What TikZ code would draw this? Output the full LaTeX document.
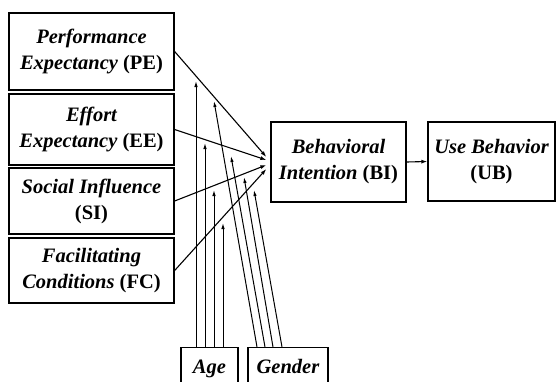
\documentclass[tikz,border=0pt]{standalone}
\usepackage{fontspec}
\setmainfont{Liberation Serif}
\usetikzlibrary{arrows.meta,calc}
\begin{document}
\begin{tikzpicture}[x=1pt,y=-1pt,
  box/.style={draw,line width=1.3pt,rectangle,inner sep=0pt,align=center,
    font=\fontsize{20.5}{26}\selectfont\bfseries\itshape},
  lbl/.style={font=\fontsize{20.5}{26}\selectfont\bfseries\itshape,anchor=base},
  conn/.style={line width=1.1pt,-{Latex[length=6pt,width=4pt]}},
  modr/.style={line width=1pt,-{Latex[length=6pt,width=3.5pt]}}]
\useasboundingbox (0,0) rectangle (556,381);
\clip (0,0) rectangle (556,381);
\node[box,minimum width=165pt,minimum height=77pt] (pe) at (91.5,51.5)
  {Performance\\Expectancy \textup{(PE)}};
\node[box,minimum width=165pt,minimum height=71pt] (ee) at (91.5,129.5)
  {Effort\\Expectancy \textup{(EE)}};
\node[box,minimum width=165pt,minimum height=66pt] (si) at (91.5,201)
  {Social Influence\\\textup{(SI)}};
\node[box,minimum width=165pt,minimum height=65pt] (fc) at (91.5,270.5)
  {Facilitating\\Conditions \textup{(FC)}};
\node[box,minimum width=135pt,minimum height=80pt] (bi) at (338.5,162)
  {Behavioral\\Intention \textup{(BI)}};
\node[box,minimum width=127pt,minimum height=79pt] (ub) at (491.5,161.5)
  {Use Behavior\\\textup{(UB)}};
\node[box,minimum width=57pt,minimum height=50pt,anchor=north] (age) at (209.5,347) {};
\node[box,minimum width=80pt,minimum height=50pt,anchor=north] (gen) at (288,347) {};
\node[lbl] (agel) at (209.5,373) {Age};
\node[lbl] (genl) at (288,373) {Gender};
% targets on BI
\coordinate (t1) at ($(bi.west)+(-4,-5)$);
\coordinate (t2) at ($(bi.west)+(-4,-2)$);
\coordinate (t3) at ($(bi.west)+(-4,3)$);
\coordinate (t4) at ($(bi.west)+(-4,7)$);
\draw[conn] (pe.east) -- (t1);
\draw[conn] (ee.east) -- (t2);
\draw[conn] (si.east) -- (t3);
\draw[conn] (fc.east) -- (t4);
\draw[conn] (bi.east) -- (ub.west);
% moderator tips
\coordinate (a1) at (196,81);
\coordinate (a2) at (205,143);
\coordinate (a3) at (214,190);
\coordinate (a4) at (223,223);
\coordinate (g1) at (214,101);
\coordinate (g2) at (231,156);
\coordinate (g3) at (244,177);
\coordinate (g4) at (254,190);
\foreach \i in {1,...,4} {
  \draw[modr] (age.north -| a\i) -- (a\i);
}
\draw[modr] ($(gen.north)+(-31,0)$) -- (g1);
\draw[modr] ($(gen.north)+(-23,0)$) -- (g2);
\draw[modr] ($(gen.north)+(-15,0)$) -- (g3);
\draw[modr] ($(gen.north)+(-6,0)$) -- (g4);
\end{tikzpicture}
\end{document}
